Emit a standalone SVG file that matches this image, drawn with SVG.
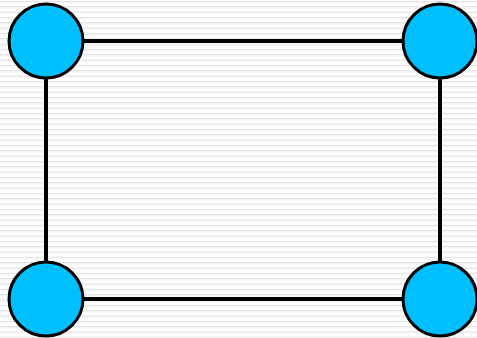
<svg xmlns="http://www.w3.org/2000/svg" width="477" height="338" viewBox="0 0 477 338">
<defs>
<pattern id="stripes" x="0" y="0" width="8" height="5.33" patternUnits="userSpaceOnUse">
<rect x="0" y="0" width="8" height="5.33" fill="#ffffff"/>
<rect x="0" y="1" width="8" height="1" fill="#e2e2e2"/>
<rect x="0" y="2" width="8" height="1" fill="#f0f0f0"/>
</pattern>
<style>
.node circle { fill: #00BFFF; stroke: #000; stroke-width: 3; }
.edge { stroke: #000; stroke-width: 4; fill: none; }
</style>
</defs>
<rect width="477" height="338" fill="url(#stripes)"/>
<g id="connectors">
<line class="edge" x1="46" y1="41" x2="440" y2="41"/>
<line class="edge" x1="46" y1="299" x2="440" y2="299"/>
<line class="edge" x1="46" y1="41" x2="46" y2="299"/>
<line class="edge" x1="440" y1="41" x2="440" y2="299"/>
</g>
<g id="n1" class="node"><circle cx="46" cy="41" r="37"/></g>
<g id="n2" class="node"><circle cx="440" cy="41" r="37"/></g>
<g id="n3" class="node"><circle cx="46" cy="299" r="37"/></g>
<g id="n4" class="node"><circle cx="440" cy="299" r="37"/></g>
</svg>
